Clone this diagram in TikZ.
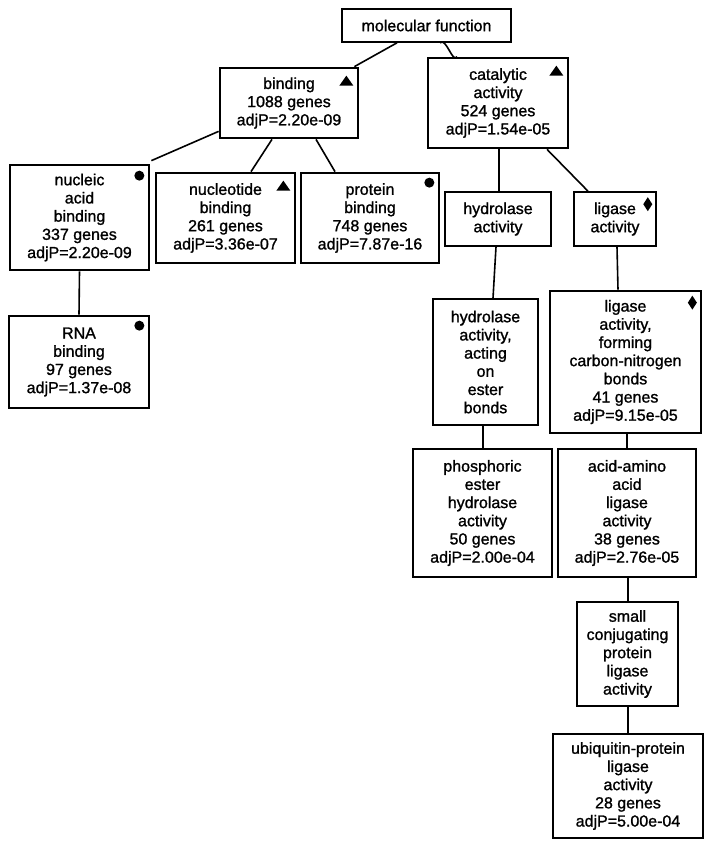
\documentclass[tikz,border=0pt]{standalone}
\usepackage{fontspec}
\setmainfont{Liberation Sans}
\newfontfamily\diagfont{Liberation Sans}[BoldFont={Liberation Sans},BoldFeatures={FakeBold=1.2}]
\begin{document}
\begin{tikzpicture}[x=1pt,y=-1pt,
  every node/.style={font=\diagfont\bfseries\fontsize{16}{18.2}\selectfont, align=center, inner sep=0pt},
  thinbox/.style 2 args={draw, line width=1.6pt, minimum width=#1, minimum height=#2},
  boldbox/.style 2 args={draw, line width=2.7pt, minimum width=#1, minimum height=#2},
  edge/.style={line width=1.6pt}]
\useasboundingbox[fill=white] (0,0) rectangle (712,849);

% nodes
\node[thinbox={169pt}{33pt}] (mf) at (426.5,25.5) {molecular function};
\node[boldbox={138pt}{70pt}] (bind) at (289,103) {binding\\1088 genes\\adjP=2.20e-09};
\node[boldbox={140pt}{90pt}] (cat) at (498,103) {catalytic\\activity\\524 genes\\adjP=1.54e-05};
\node[boldbox={139pt}{105pt}] (nuc) at (79.5,217.5) {nucleic\\acid\\binding\\337 genes\\adjP=2.20e-09};
\node[boldbox={139pt}{90pt}] (nt) at (225.5,218) {nucleotide\\binding\\261 genes\\adjP=3.36e-07};
\node[boldbox={138pt}{90pt}] (prot) at (370,218) {protein\\binding\\748 genes\\adjP=7.87e-16};
\node[thinbox={106pt}{54pt}] (hyd) at (498,219) {hydrolase\\activity};
\node[thinbox={82pt}{54pt}] (lig) at (615,219) {ligase\\activity};
\node[boldbox={140pt}{92pt}] (rna) at (79,362) {RNA\\binding\\97 genes\\adjP=1.37e-08};
\node[thinbox={105pt}{126pt}] (hact) at (485.5,362) {hydrolase\\activity,\\acting\\on\\ester\\bonds};
\node[boldbox={151pt}{142pt}] (lform) at (625.5,362) {ligase\\activity,\\forming\\carbon-nitrogen\\bonds\\41 genes\\adjP=9.15e-05};
\node[boldbox={139pt}{128pt}] (phos) at (482.5,513) {phosphoric\\ester\\hydrolase\\activity\\50 genes\\adjP=2.00e-04};
\node[boldbox={138pt}{128pt}] (aa) at (627,513) {acid-amino\\acid\\ligase\\activity\\38 genes\\adjP=2.76e-05};
\node[thinbox={101pt}{104pt}] (small) at (627.5,654) {small\\conjugating\\protein\\ligase\\activity};
\node[boldbox={150pt}{104pt}] (ubi) at (628,786) {ubiquitin-protein\\ligase\\activity\\28 genes\\adjP=5.00e-04};

% connectors
\draw[edge] ([xshift=-29.5pt]mf.south) -- ([xshift=-5pt]bind.north east);
\draw[edge] ([xshift=13.5pt]mf.south) to[out=45,in=240] ([xshift=-41pt]cat.north);
\draw[edge] ([yshift=8pt]bind.south west) -- ([xshift=1pt,yshift=3pt]nuc.north east);
\draw[edge] ([xshift=-17pt]bind.south) -- ([xshift=25.5pt]nt.north);
\draw[edge] ([xshift=27pt]bind.south) -- ([xshift=-35pt]prot.north);
\draw[edge] ([xshift=1pt]cat.south) -- ([xshift=1pt]hyd.north);
\draw[edge] ([xshift=49pt]cat.south) -- ([xshift=-27pt]lig.north);
\draw[edge] ([xshift=-2pt]hyd.south) -- ([xshift=7.5pt]hact.north);
\draw[edge] ([xshift=2pt]lig.south) -- ([xshift=-7.5pt]lform.north);
\draw[edge] (nuc.south) -- (rna.north);
\draw[edge] ([xshift=-2.5pt]hact.south) -- ([xshift=0.5pt]phos.north);
\draw[edge] ([xshift=1.5pt]lform.south) -- (aa.north);
\draw[edge] ([xshift=1pt]aa.south) -- ([xshift=0.5pt]small.north);
\draw[edge] ([xshift=0.5pt]small.south) -- (ubi.north);

% markers: triangles
\fill ([shift={(-20,19)}]bind.north east) -- ++(14,0) -- ++(-7,-10) -- cycle;
\fill ([shift={(-20,19)}]cat.north east) -- ++(14,0) -- ++(-7,-10) -- cycle;
\fill ([shift={(-20,19)}]nt.north east) -- ++(14,0) -- ++(-7,-10) -- cycle;
% dots
\fill ([shift={(-11,12)}]nuc.north east) circle[radius=5pt];
\fill ([shift={(-11,11)}]prot.north east) circle[radius=5pt];
\fill ([shift={(-11,11)}]rna.north east) circle[radius=5pt];
% diamonds
\fill ([shift={(-9,6)}]lig.north east) -- ++(4.5,7) -- ++(-4.5,7) -- ++(-4.5,-7) -- cycle;
\fill ([shift={(-10,6)}]lform.north east) -- ++(4.5,7) -- ++(-4.5,7) -- ++(-4.5,-7) -- cycle;
\end{tikzpicture}
\end{document}
